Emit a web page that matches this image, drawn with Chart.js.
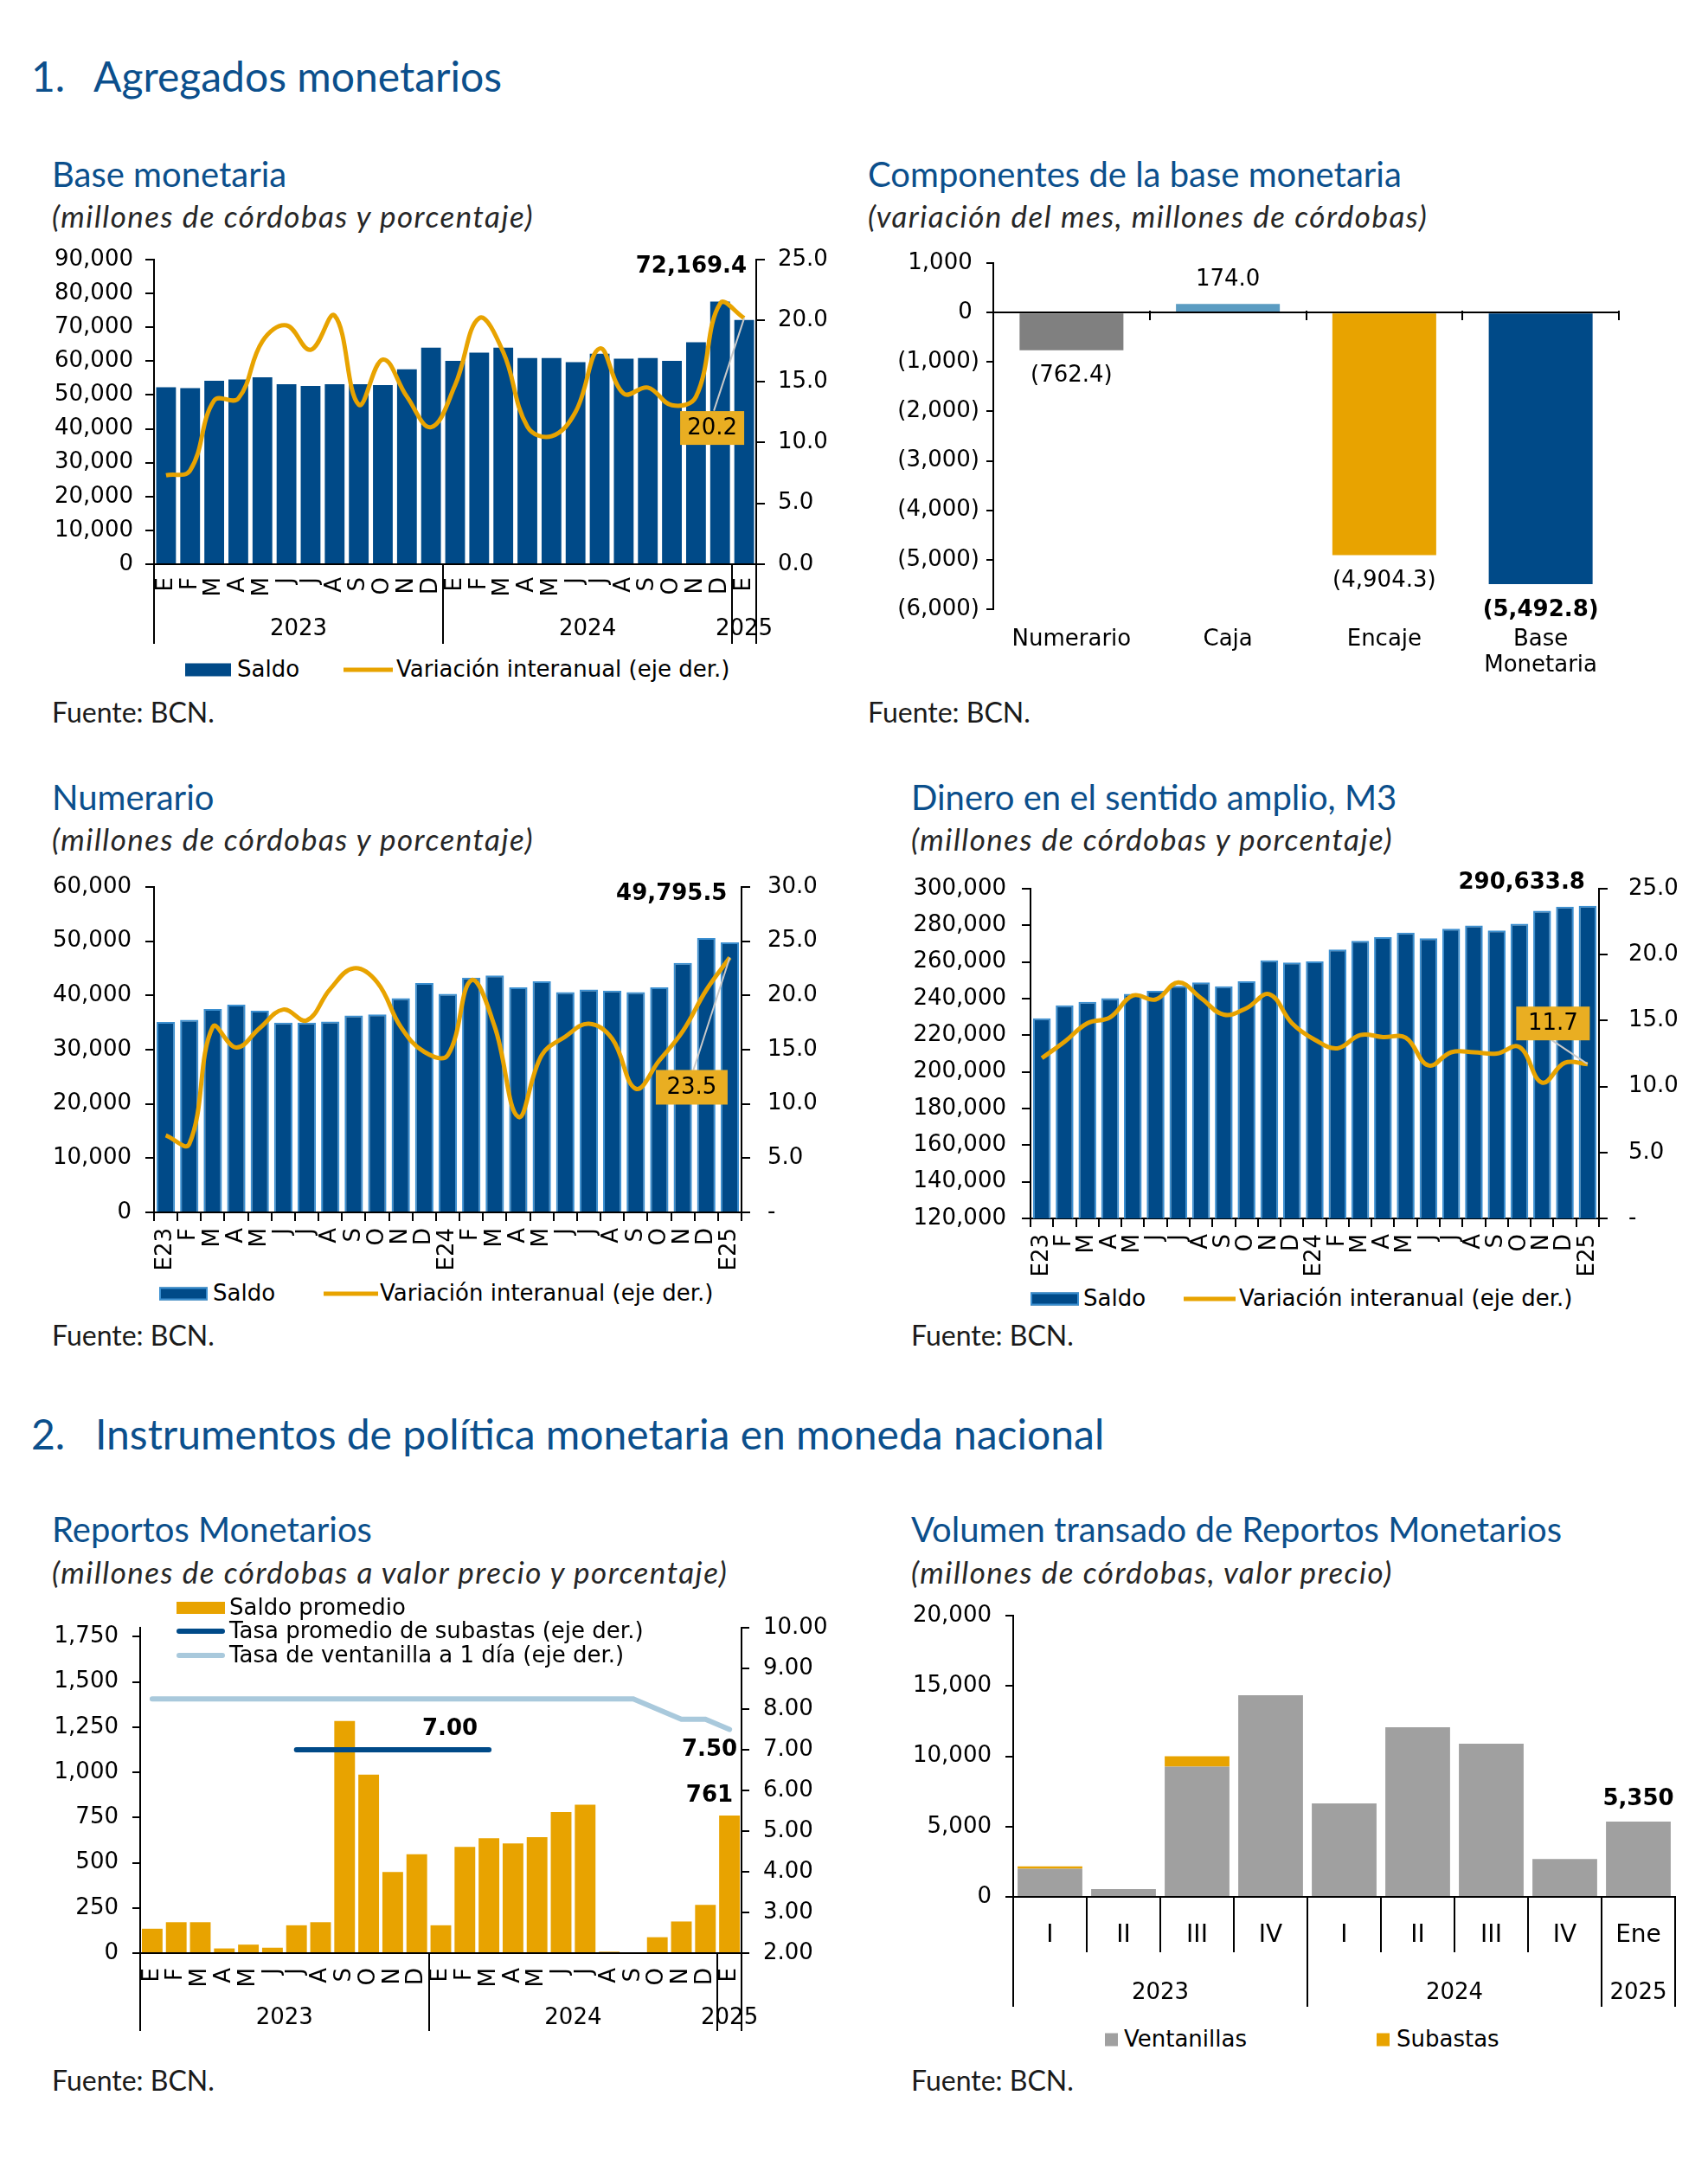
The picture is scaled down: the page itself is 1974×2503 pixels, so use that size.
<!DOCTYPE html>
<html lang="es">
<head>
<meta charset="utf-8">
<title>Agregados monetarios</title>
<script src="https://cdn.jsdelivr.net/npm/chart.js@4.4.1/dist/chart.umd.min.js"></script>
<style>
  body { margin: 0; background: #fff; }
  #page { position: relative; width: 1974px; height: 2503px; overflow: hidden; background: #fff; }
  .t { position: absolute; white-space: nowrap; line-height: 1.2; transform: translateY(-50%); }
  .sec { font-family: Lato, sans-serif; font-size: 48px; color: #0b4f8c; }
  .ttl { font-family: Lato, sans-serif; font-size: 40px; color: #0b4f8c; }
  .sub { font-family: Lato, sans-serif; font-style: italic; font-size: 35px; letter-spacing: 1.5px; color: #262626; }
  .src { font-family: Lato, sans-serif; font-size: 32px; color: #1a1a1a; }
  .lg { font-family: 'DejaVu Sans', sans-serif; font-size: 26px; color: #000; }
  .sw { position: absolute; transform: translateY(-50%); }
  canvas { position: absolute; }
</style>
</head>
<body>
<div id="page">
  <div class="t sec" style="left:36px;top:88px">1.</div>
  <div class="t sec" style="left:108px;top:88px">Agregados monetarios</div>
  <div class="t sec" style="left:36px;top:1657px">2.</div>
  <div class="t sec" style="left:110px;top:1657px">Instrumentos de política monetaria en moneda nacional</div>

  <!-- fila 1 -->
  <div class="t ttl" style="left:60px;top:201px">Base monetaria</div>
  <div class="t sub" style="left:60px;top:249px">(millones de córdobas y porcentaje)</div>
  <div class="sw" style="left:214px;top:774px;width:53px;height:15px;background:#004a88"></div>
  <div class="t lg" style="left:274px;top:774px">Saldo</div>
  <div class="sw" style="left:397px;top:774px;width:57px;height:5px;background:#e8a300"></div>
  <div class="t lg" style="left:458px;top:774px">Variación interanual (eje der.)</div>
  <div class="t src" style="left:60px;top:823px">Fuente: BCN.</div>

  <div class="t ttl" style="left:1003px;top:201px">Componentes de la base monetaria</div>
  <div class="t sub" style="left:1003px;top:249px">(variación del mes, millones de córdobas)</div>
  <div class="t src" style="left:1003px;top:823px">Fuente: BCN.</div>

  <!-- fila 2 -->
  <div class="t ttl" style="left:60px;top:921px">Numerario</div>
  <div class="t sub" style="left:60px;top:969px">(millones de córdobas y porcentaje)</div>
  <div class="sw" style="left:184px;top:1495px;width:56px;height:15px;background:#004a88;border:2px solid #3b8fd0;box-sizing:border-box"></div>
  <div class="t lg" style="left:246px;top:1495px">Saldo</div>
  <div class="sw" style="left:374px;top:1495px;width:63px;height:5px;background:#e8a300"></div>
  <div class="t lg" style="left:439px;top:1495px">Variación interanual (eje der.)</div>
  <div class="t src" style="left:60px;top:1543px">Fuente: BCN.</div>

  <div class="t ttl" style="left:1053px;top:921px">Dinero en el sentido amplio, M3</div>
  <div class="t sub" style="left:1053px;top:969px">(millones de córdobas y porcentaje)</div>
  <div class="sw" style="left:1191px;top:1501px;width:56px;height:15px;background:#004a88;border:2px solid #3b8fd0;box-sizing:border-box"></div>
  <div class="t lg" style="left:1252px;top:1501px">Saldo</div>
  <div class="sw" style="left:1368px;top:1501px;width:60px;height:5px;background:#e8a300"></div>
  <div class="t lg" style="left:1432px;top:1501px">Variación interanual (eje der.)</div>
  <div class="t src" style="left:1053px;top:1543px">Fuente: BCN.</div>

  <!-- fila 3 -->
  <div class="t ttl" style="left:60px;top:1767px">Reportos Monetarios</div>
  <div class="t sub" style="left:60px;top:1816px">(millones de córdobas a valor precio y porcentaje)</div>
  <div class="t src" style="left:60px;top:2404px">Fuente: BCN.</div>

  <div class="t ttl" style="left:1053px;top:1767px">Volumen transado de Reportos Monetarios</div>
  <div class="t sub" style="left:1053px;top:1816px">(millones de córdobas, valor precio)</div>
  <div class="sw" style="left:1277px;top:2357px;width:15px;height:15px;background:#a0a0a0"></div>
  <div class="t lg" style="left:1299px;top:2357px">Ventanillas</div>
  <div class="sw" style="left:1591px;top:2357px;width:15px;height:15px;background:#e8a300"></div>
  <div class="t lg" style="left:1614px;top:2357px">Subastas</div>
  <div class="t src" style="left:1053px;top:2404px">Fuente: BCN.</div>

  <canvas id="c1" width="990" height="480" style="left:0;top:270px"></canvas>
  <canvas id="c2" width="984" height="510" style="left:990px;top:280px"></canvas>
  <canvas id="c3" width="990" height="480" style="left:0;top:1000px"></canvas>
  <canvas id="c4" width="984" height="490" style="left:990px;top:1000px"></canvas>
  <canvas id="c5" width="990" height="500" style="left:0;top:1860px"></canvas>
  <canvas id="c6" width="984" height="500" style="left:990px;top:1840px"></canvas>

  <!-- leyenda de reportos, encima del grafico -->
  <div class="sw" style="left:204px;top:1858px;width:56px;height:14px;background:#e8a300"></div>
  <div class="t lg" style="left:265px;top:1858px">Saldo promedio</div>
  <div class="sw" style="left:204px;top:1885px;width:56px;height:6px;background:#004a88;border-radius:3px"></div>
  <div class="t lg" style="left:265px;top:1885px">Tasa promedio de subastas (eje der.)</div>
  <div class="sw" style="left:204px;top:1913px;width:56px;height:6px;background:#a9c9dc;border-radius:3px"></div>
  <div class="t lg" style="left:265px;top:1913px">Tasa de ventanilla a 1 día (eje der.)</div>
</div>

<script>
const BLUE = '#004a88';
const GOLD = '#e8a300';
const BOX = '#e9ae22';
const FONT = "'DejaVu Sans', sans-serif";

Chart.defaults.font.family = FONT;
Chart.defaults.font.size = 26;
Chart.defaults.color = '#000';
Chart.defaults.animation = false;
Chart.defaults.responsive = false;
Chart.defaults.maintainAspectRatio = false;
Chart.defaults.devicePixelRatio = 1;
Chart.defaults.plugins.legend.display = false;
Chart.defaults.plugins.tooltip.enabled = false;

// ---- datos ----
const meses = ['E','F','M','A','M','J','J','A','S','O','N','D','E','F','M','A','M','J','J','A','S','O','N','D','E'];
const anioMes = ['2023','2023','2023','2023','2023','2023','2023','2023','2023','2023','2023','2023',
                 '2024','2024','2024','2024','2024','2024','2024','2024','2024','2024','2024','2024','2025'];
const mesesCod = ['E23','F','M','A','M','J','J','A','S','O','N','D','E24','F','M','A','M','J','J','A','S','O','N','D','E25'];

// Base monetaria
const baseSaldo = [52300, 52000, 54200, 54600, 55200, 53200, 52700, 53200, 53200, 52900, 57600, 64000,
                   60100, 62500, 64000, 60900, 60900, 59700, 62200, 60700, 60900, 60100, 65600, 77600, 72169.4];
const baseVar = [7.3, 7.7, 13.45, 13.6, 18.3, 19.6, 17.6, 20.4, 13.1, 16.8, 13.75, 11.25,
                 14.7, 20.2, 17.4, 11.3, 10.5, 12.5, 17.7, 14.0, 14.5, 13.05, 13.75, 21.4, 20.2];

// Componentes de la base monetaria
const compEtiquetas = ['Numerario', 'Caja', 'Encaje', ['Base', 'Monetaria']];
const compValores = [-762.4, 174.0, -4904.3, -5492.8];
const compColores = ['#808080', '#5b9cc2', '#e8a300', '#004a88'];

// Numerario
const numSaldo = [35100, 35500, 37500, 38300, 37200, 35000, 35000, 35200, 36300, 36500, 39500, 42300,
                  40300, 43300, 43700, 41500, 42600, 40600, 41100, 40900, 40600, 41500, 46000, 50600, 49795.5];
const numVar = [7.1, 6.3, 17.1, 15.2, 17.0, 18.7, 17.7, 20.6, 22.5, 21.2, 17.1, 14.8,
                14.5, 21.4, 17.1, 8.8, 14.5, 16.2, 17.4, 16.0, 11.4, 14.0, 16.7, 20.5, 23.5];

// M3
const m3Saldo = [229200, 236300, 238200, 240200, 242600, 244300, 247000, 248900, 246700, 249500, 260900, 259700,
                 260300, 266800, 271500, 273500, 276000, 272900, 278200, 279900, 277200, 280900, 288000, 290200, 290633.8];
const m3Var = [12.15, 13.4, 14.8, 15.25, 16.9, 16.6, 17.9, 16.7, 15.45, 15.95, 17.0, 14.8,
               13.55, 12.9, 13.9, 13.75, 13.7, 11.6, 12.6, 12.6, 12.5, 13.0, 10.3, 11.8, 11.7];

// Reportos monetarios
const repSaldo = [135, 171, 171, 26, 47, 30, 154, 171, 1284, 987, 449, 547,
                  154, 588, 635, 607, 641, 780, 821, 8, 0, 88, 175, 267, 761];
const repSubastas = [null, null, null, null, null, null, 7, 7, 7, 7, 7, 7,
                     7, 7, 7, null, null, null, null, null, null, null, null, null, null];
const repVentanilla = [8.25, 8.25, 8.25, 8.25, 8.25, 8.25, 8.25, 8.25, 8.25, 8.25, 8.25, 8.25,
                       8.25, 8.25, 8.25, 8.25, 8.25, 8.25, 8.25, 8.25, 8.25, 8.0, 7.75, 7.75, 7.5];
const repTicks = [0, 250, 500, 750, 1000, 1250, 1500, 1750];

// Volumen transado
const volTrim = ['I', 'II', 'III', 'IV', 'I', 'II', 'III', 'IV', 'Ene'];
const volAnios = ['2023', '2023', '2023', '2023', '2024', '2024', '2024', '2024', '2025'];
const volVentanillas = [2000, 550, 9260, 14340, 6650, 12060, 10900, 2690, 5350];
const volSubastas = [170, 0, 740, 0, 0, 0, 0, 0, 0];

// ---- utilidades ----
const miles = v => Number(v).toLocaleString('en-US');
const dec1 = v => Number(v).toLocaleString('en-US', { minimumFractionDigits: 1, maximumFractionDigits: 1 });
// ancho fijo del eje y sin el relleno extra que empuja el area del grafico
const fixW = w => s => { s.width = w; s.paddingTop = 0; s.paddingBottom = 0; };
const fixH = h => s => { s.height = h; };

function ejeY(pos, min, max, step, cb, width, tick, pad) {
  return {
    position: pos, min: min, max: max,
    ticks: { stepSize: step, callback: cb, padding: pad },
    grid: { drawOnChartArea: false, color: '#000', lineWidth: 2, tickLength: tick },
    border: { color: '#000', width: 2 },
    afterFit: fixW(width)
  };
}

function ejeMeses(height, pad, marcas) {
  return {
    ticks: { autoSkip: false, minRotation: 90, maxRotation: 90, padding: pad },
    grid: { drawOnChartArea: false, drawTicks: marcas, tickLength: 10, color: '#000', lineWidth: 2 },
    border: { color: '#000', width: 2 },
    afterFit: fixH(height)
  };
}

function nota(ctx, texto, x, y, align, bold) {
  ctx.save();
  ctx.fillStyle = '#000';
  ctx.font = (bold ? 'bold ' : '') + '26px ' + FONT;
  ctx.textAlign = align;
  ctx.textBaseline = 'middle';
  ctx.fillText(texto, x, y);
  ctx.restore();
}

function notaCaja(ctx, texto, cx, cy, w, h, ax, ay, px, py) {
  ctx.save();
  ctx.strokeStyle = '#c9c9c9';
  ctx.lineWidth = 2;
  ctx.beginPath(); ctx.moveTo(ax, ay); ctx.lineTo(px, py); ctx.stroke();
  ctx.fillStyle = BOX;
  ctx.fillRect(cx - w / 2, cy - h / 2, w, h);
  ctx.restore();
  nota(ctx, texto, cx, cy + 1, 'center', false);
}

// separadores y etiquetas de anio bajo el eje x
function grupos(etiquetas, largo, offTexto, interno) {
  return {
    id: 'grupos',
    afterDraw(chart) {
      const { ctx, chartArea: a, scales: { x } } = chart;
      const n = etiquetas.length;
      const mitad = (x.getPixelForValue(1) - x.getPixelForValue(0)) / 2;
      const borde = i => i < n ? x.getPixelForValue(i) - mitad : x.getPixelForValue(n - 1) + mitad;
      ctx.save();
      ctx.strokeStyle = '#000';
      ctx.lineWidth = 2;
      ctx.fillStyle = '#000';
      ctx.font = '26px ' + FONT;
      ctx.textAlign = 'center';
      ctx.textBaseline = 'middle';
      let ini = 0;
      for (let i = 0; i <= n; i++) {
        const corte = i === 0 || i === n || etiquetas[i] !== etiquetas[i - 1];
        const len = corte ? largo : interno;
        if (len) {
          const px = Math.round(borde(i));
          ctx.beginPath(); ctx.moveTo(px, a.bottom); ctx.lineTo(px, a.bottom + len); ctx.stroke();
        }
        if (corte && i > 0) {
          const cx = (x.getPixelForValue(ini) + x.getPixelForValue(i - 1)) / 2;
          ctx.fillText(etiquetas[ini], cx, a.bottom + offTexto);
          ini = i;
        }
      }
      ctx.restore();
    }
  };
}

// ---- 1. Base monetaria ----
new Chart(document.getElementById('c1'), {
  type: 'bar',
  data: {
    labels: meses,
    datasets: [
      { type: 'bar', label: 'Saldo', data: baseSaldo, backgroundColor: BLUE, yAxisID: 'y',
        barPercentage: 0.82, categoryPercentage: 1, order: 2 },
      { type: 'line', label: 'Variación interanual (eje der.)', data: baseVar, borderColor: GOLD,
        borderWidth: 5, pointRadius: 0, tension: 0.4, yAxisID: 'y1', order: 1 }
    ]
  },
  options: {
    layout: { padding: { top: 30, left: 0, right: 0, bottom: 0 } },
    scales: {
      x: ejeMeses(98, 15, false),
      y: ejeY('left', 0, 90000, 10000, miles, 178, 10, 14),
      y1: ejeY('right', 0, 25, 5, v => v.toFixed(1), 116, 10, 15)
    }
  },
  plugins: [grupos(anioMes, 92, 75, 0), {
    id: 'notas1',
    afterDatasetsDraw(chart) {
      const ctx = chart.ctx;
      const i = baseSaldo.length - 1;
      const bar = chart.getDatasetMeta(0).data[i];
      nota(ctx, dec1(baseSaldo[i]), bar.x + 3, chart.chartArea.top + 8, 'right', true);
      const p = chart.getDatasetMeta(1).data[i];
      notaCaja(ctx, baseVar[i].toFixed(1), p.x - 37, p.y + 127, 74, 39, p.x - 35, p.y + 107, p.x, p.y);
    }
  }]
});

// ---- 2. Componentes de la base monetaria ----
new Chart(document.getElementById('c2'), {
  type: 'bar',
  data: {
    labels: compEtiquetas,
    datasets: [{ data: compValores, backgroundColor: compColores, barPercentage: 0.664, categoryPercentage: 1 }]
  },
  options: {
    layout: { padding: { top: 24, left: 0, right: 103, bottom: 0 } },
    scales: {
      x: {
        ticks: { padding: 12, font: { size: 26, lineHeight: 1.15 } },
        grid: { display: false },
        border: { display: false },
        afterFit: fixH(86)
      },
      y: ejeY('left', -6000, 1000, 1000, v => v < 0 ? '(' + miles(-v) + ')' : miles(v) + ' ', 158, 8, 8)
    }
  },
  plugins: [{
    id: 'notas2',
    afterDatasetsDraw(chart) {
      const { ctx, chartArea: a, scales: { x, y } } = chart;
      chart.getDatasetMeta(0).data.forEach((el, i) => {
        const v = compValores[i];
        const txt = v < 0 ? '(' + dec1(-v) + ')' : dec1(v);
        nota(ctx, txt, el.x, v < 0 ? el.y + 30 : el.y - 28, 'center', i === compValores.length - 1);
      });
      const y0 = Math.round(y.getPixelForValue(0));
      const mitad = (x.getPixelForValue(1) - x.getPixelForValue(0)) / 2;
      ctx.save();
      ctx.strokeStyle = '#000';
      ctx.lineWidth = 2;
      ctx.beginPath(); ctx.moveTo(a.left, y0); ctx.lineTo(a.right, y0); ctx.stroke();
      for (let i = 0; i < compValores.length; i++) {
        const px = Math.round(x.getPixelForValue(i) + mitad);
        ctx.beginPath(); ctx.moveTo(px, y0 - 2); ctx.lineTo(px, y0 + 9); ctx.stroke();
      }
      ctx.restore();
    }
  }]
});

// ---- 3. Numerario ----
new Chart(document.getElementById('c3'), {
  type: 'bar',
  data: {
    labels: mesesCod,
    datasets: [
      { type: 'bar', label: 'Saldo', data: numSaldo, backgroundColor: BLUE, borderColor: '#3b8fd0',
        borderWidth: 2, barPercentage: 0.78, categoryPercentage: 1, yAxisID: 'y', order: 2 },
      { type: 'line', label: 'Variación interanual (eje der.)', data: numVar, borderColor: GOLD,
        borderWidth: 5, pointRadius: 0, tension: 0.4, yAxisID: 'y1', order: 1 }
    ]
  },
  options: {
    layout: { padding: { top: 25, left: 0, right: 0, bottom: 0 } },
    scales: {
      x: ejeMeses(79, 8, true),
      y: ejeY('left', 0, 60000, 10000, miles, 178, 10, 16),
      y1: ejeY('right', 0, 30, 5, v => v === 0 ? '-' : v.toFixed(1), 133, 10, 20)
    }
  },
  plugins: [{
    id: 'notas3',
    afterDatasetsDraw(chart) {
      const ctx = chart.ctx;
      const i = numSaldo.length - 1;
      const bar = chart.getDatasetMeta(0).data[i];
      nota(ctx, dec1(numSaldo[i]), bar.x - 3, chart.chartArea.top + 8, 'right', true);
      const p = chart.getDatasetMeta(1).data[i];
      notaCaja(ctx, numVar[i].toFixed(1), p.x - 44, p.y + 150, 83, 40, p.x - 42, p.y + 130, p.x, p.y);
    }
  }]
});

// ---- 4. M3 ----
new Chart(document.getElementById('c4'), {
  type: 'bar',
  data: {
    labels: mesesCod,
    datasets: [
      { type: 'bar', label: 'Saldo', data: m3Saldo, backgroundColor: BLUE, borderColor: '#3b8fd0',
        borderWidth: 2, barPercentage: 0.78, categoryPercentage: 1, yAxisID: 'y', order: 2 },
      { type: 'line', label: 'Variación interanual (eje der.)', data: m3Var, borderColor: GOLD,
        borderWidth: 5, pointRadius: 0, tension: 0.4, yAxisID: 'y1', order: 1 }
    ]
  },
  options: {
    layout: { padding: { top: 27, left: 0, right: 0, bottom: 0 } },
    scales: {
      x: ejeMeses(82, 8, true),
      y: ejeY('left', 120000, 300000, 20000, miles, 201, 10, 18),
      y1: ejeY('right', 0, 25, 5, v => v === 0 ? '-' : v.toFixed(1), 126, 10, 24)
    }
  },
  plugins: [{
    id: 'notas4',
    afterDatasetsDraw(chart) {
      const ctx = chart.ctx;
      const i = m3Saldo.length - 1;
      const bar = chart.getDatasetMeta(0).data[i];
      nota(ctx, dec1(m3Saldo[i]), bar.x - 3, chart.chartArea.top - 7, 'right', true);
      const p = chart.getDatasetMeta(1).data[i];
      notaCaja(ctx, m3Var[i].toFixed(1), p.x - 40, p.y - 47, 85, 39, p.x - 42, p.y - 28, p.x, p.y);
    }
  }]
});

// ---- 5. Reportos monetarios ----
new Chart(document.getElementById('c5'), {
  type: 'bar',
  data: {
    labels: meses,
    datasets: [
      { type: 'bar', label: 'Saldo promedio', data: repSaldo, backgroundColor: GOLD,
        barPercentage: 0.86, categoryPercentage: 1, yAxisID: 'y', order: 3 },
      { type: 'line', label: 'Tasa promedio de subastas (eje der.)', data: repSubastas, borderColor: BLUE,
        borderWidth: 6, borderCapStyle: 'round', pointRadius: 0, tension: 0, yAxisID: 'y1', order: 1 },
      { type: 'line', label: 'Tasa de ventanilla a 1 día (eje der.)', data: repVentanilla, borderColor: '#a9c9dc',
        borderWidth: 6, borderCapStyle: 'round', pointRadius: 0, tension: 0, yAxisID: 'y1', order: 2 }
    ]
  },
  options: {
    layout: { padding: { top: 21, left: 0, right: 0, bottom: 0 } },
    scales: {
      x: ejeMeses(103, 17, false),
      y: Object.assign(ejeY('left', 0, 1800, 250, miles, 162, 9, 16), {
        afterBuildTicks: s => { s.ticks = repTicks.map(v => ({ value: v })); }
      }),
      y1: ejeY('right', 2, 10, 1, v => v.toFixed(2), 133, 9, 16)
    }
  },
  plugins: [grupos(anioMes, 90, 75, 0), {
    id: 'notas5',
    afterDatasetsDraw(chart) {
      const ctx = chart.ctx;
      const ult = repSubastas.reduce((k, v, i) => v !== null ? i : k, 0);
      const s = chart.getDatasetMeta(1).data[ult];
      nota(ctx, repSubastas[ult].toFixed(2), s.x - 45, s.y - 24, 'center', true);
      const n = repVentanilla.length - 1;
      const v = chart.getDatasetMeta(2).data[n];
      nota(ctx, repVentanilla[n].toFixed(2), v.x + 9, v.y + 24, 'right', true);
      const b = chart.getDatasetMeta(0).data[n];
      nota(ctx, miles(repSaldo[n]), b.x + 4, b.y - 23, 'right', true);
    }
  }]
});

// ---- 6. Volumen transado ----
new Chart(document.getElementById('c6'), {
  type: 'bar',
  data: {
    labels: volTrim,
    datasets: [
      { label: 'Ventanillas', data: volVentanillas, backgroundColor: '#a0a0a0', barPercentage: 0.88, categoryPercentage: 1 },
      { label: 'Subastas', data: volSubastas, backgroundColor: GOLD, barPercentage: 0.88, categoryPercentage: 1 }
    ]
  },
  options: {
    layout: { padding: { top: 27, left: 0, right: 38, bottom: 0 } },
    scales: {
      x: {
        stacked: true,
        ticks: { padding: 28, font: { size: 28 } },
        grid: { display: true, drawOnChartArea: false, drawTicks: false },
        border: { color: '#000', width: 2 },
        afterFit: fixH(148)
      },
      y: Object.assign(ejeY('left', 0, 20000, 5000, miles, 181, 9, 16), { stacked: true })
    }
  },
  plugins: [grupos(volAnios, 127, 111, 64), {
    id: 'notas6',
    afterDatasetsDraw(chart) {
      const n = volVentanillas.length - 1;
      const b = chart.getDatasetMeta(1).data[n];
      nota(chart.ctx, miles(volVentanillas[n] + volSubastas[n]), b.x, b.y - 26, 'center', true);
    }
  }]
});
</script>
</body>
</html>
